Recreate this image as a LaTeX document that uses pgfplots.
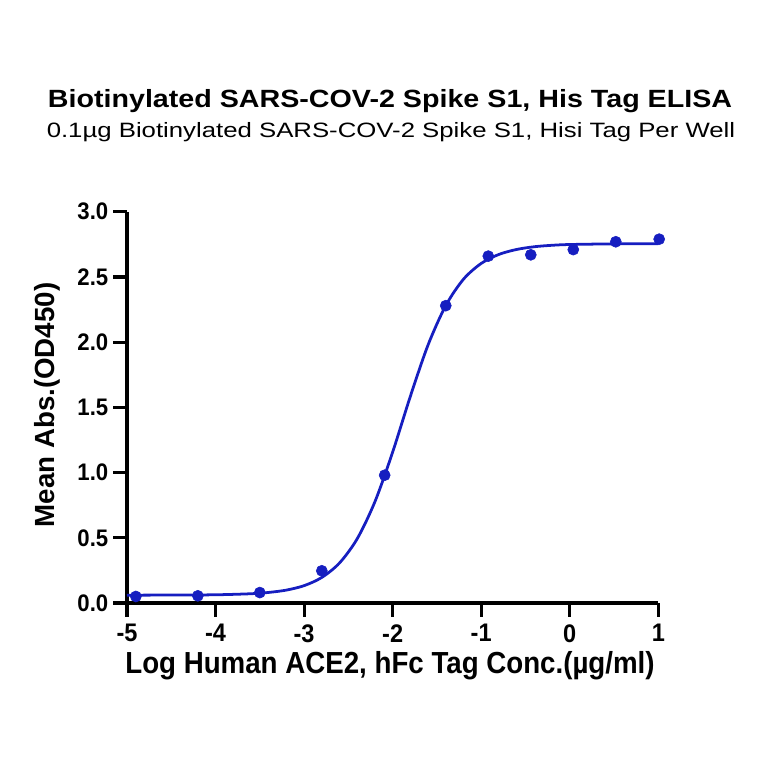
\documentclass[border=0pt]{standalone}
\usepackage{fontspec}
\setmainfont{Liberation Sans}
\usepackage{pgfplots}
\pgfplotsset{compat=1.18}
\definecolor{curveblue}{RGB}{22,30,192}

\begin{document}
\begin{tikzpicture}[x=0.01in,y=0.01in]
% page frame, 764 x 764 px with the axis corner at (127,603)
\path[use as bounding box] (-127,-161) rectangle (637,603);
\begin{axis}[
    at={(0,0)}, anchor=south west,
    scale only axis,
    width=5.31in, height=3.91in,
    xmin=-5, xmax=1,
    ymin=0, ymax=3,
    xtick={-5,-4,-3,-2,-1,0,1},
    ytick={0,0.5,1,1.5,2,2.5,3},
    axis lines=left,
    axis line style={line width=2.2pt,-},
    tick style={line width=2.2pt,black},
    major tick length=10pt,
    tick align=outside,
    clip=false,
    /pgf/number format/assume math mode=true,
    yticklabel style={font=\fontsize{16}{19}\selectfont\bfseries, yscale=1.08,
        /pgf/number format/fixed, /pgf/number format/fixed zerofill,
        /pgf/number format/precision=1},
    xticklabel style={font=\fontsize{17}{20}\selectfont\bfseries, yscale=1.08, yshift=-1.5pt},
]
% fitted curve
\addplot[curveblue, line width=2pt, smooth] coordinates {
(-5.0,0.060)(-4.5,0.061)(-4.0,0.063)(-3.6,0.071)(-3.4,0.081)(-3.2,0.099)
(-3.0,0.133)(-2.8,0.196)(-2.6,0.307)(-2.4,0.493)(-2.2,0.777)(-2.0,1.157)
(-1.8,1.585)(-1.6,1.979)(-1.4,2.281)(-1.2,2.483)(-1.0,2.604)(-0.8,2.673)
(-0.6,2.711)(-0.4,2.732)(-0.2,2.743)(0.0,2.749)(0.5,2.754)(1.0,2.755)
};
% measured points
\addplot[only marks, mark=*, mark size=4pt, curveblue] coordinates {
(-4.90,0.05)(-4.20,0.055)(-3.50,0.08)(-2.80,0.247)(-2.09,0.98)(-1.40,2.28)
(-0.92,2.66)(-0.44,2.67)(0.04,2.71)(0.52,2.77)(1.01,2.79)
};
\end{axis}
\node[font=\fontsize{18}{21}\selectfont\bfseries, xscale=1.15] at (263,502) {Biotinylated SARS-COV-2 Spike S1, His Tag ELISA};
\node[font=\fontsize{15}{18}\selectfont, xscale=1.24] at (264,471) {0.1µg Biotinylated SARS-COV-2 Spike S1, Hisi Tag Per Well};
\node[font=\fontsize{20}{23}\selectfont\bfseries, rotate=90] at (-80,198) {Mean Abs.(OD450)};
\node[font=\fontsize{20}{23}\selectfont\bfseries, yscale=1.1] at (263,-63) {Log Human ACE2, hFc Tag Conc.(µg/ml)};
\end{tikzpicture}
\end{document}
